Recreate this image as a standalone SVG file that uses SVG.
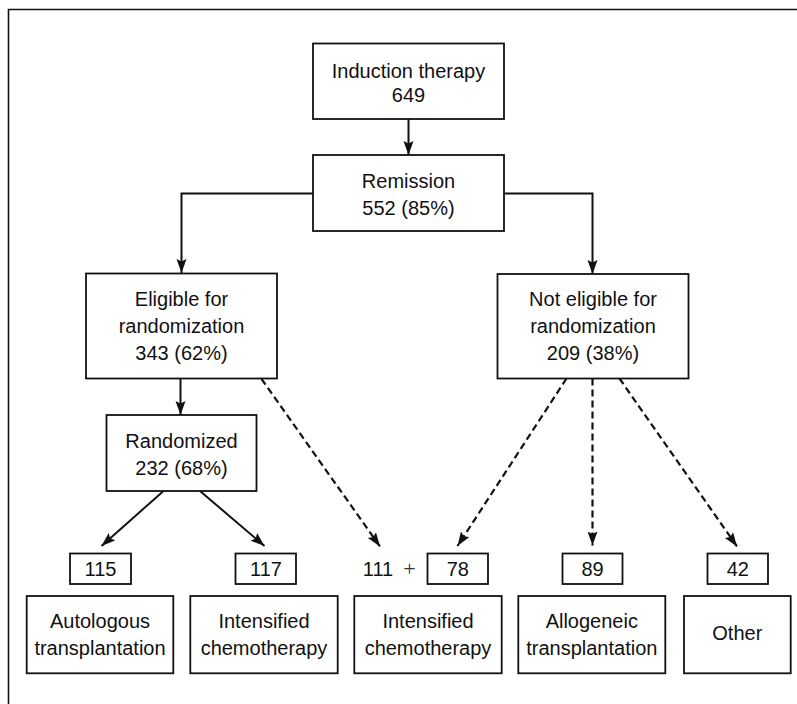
<svg xmlns="http://www.w3.org/2000/svg" width="797" height="704" viewBox="0 0 797 704">
<style>
.box{fill:#fff;stroke:#111;stroke-width:1.8}
.t{font-family:"Liberation Sans",Arial,Helvetica,sans-serif;font-size:20px;fill:#111;text-anchor:middle}
.plus{font-family:"Liberation Serif","Times New Roman",serif;font-size:22px;fill:#333;text-anchor:middle}
.c{fill:none;stroke:#111;stroke-width:2}
.d{fill:none;stroke:#111;stroke-width:2.2;stroke-dasharray:7 4}
</style>
<defs>
<marker id="ah" markerUnits="userSpaceOnUse" markerWidth="16" markerHeight="12" refX="14" refY="5" orient="auto">
<path d="M0,0 L14,5 L0,10 L2.5,5 z" fill="#111"/>
</marker>
</defs>
<rect width="797" height="704" fill="#fff"/>
<path d="M8.5,704 V9.5 H797" fill="none" stroke="#111" stroke-width="1.6"/>

<g id="connectors">
<line class="c" x1="408.5" y1="119" x2="408.5" y2="155" marker-end="url(#ah)"/>
<polyline class="c" points="313,193.5 181.5,193.5 181.5,273" marker-end="url(#ah)"/>
<polyline class="c" points="504,193.5 592.5,193.5 592.5,274" marker-end="url(#ah)"/>
<line class="c" x1="180.5" y1="378.5" x2="180.5" y2="415" marker-end="url(#ah)"/>
<line class="c" x1="163.5" y1="491" x2="101.5" y2="546" marker-end="url(#ah)"/>
<line class="c" x1="200" y1="491" x2="264.5" y2="546" marker-end="url(#ah)"/>
<line class="d" x1="261.5" y1="379" x2="380" y2="546.5" marker-end="url(#ah)"/>
<line class="d" x1="566.5" y1="378.5" x2="457.5" y2="546" marker-end="url(#ah)"/>
<line class="d" x1="592.5" y1="378.5" x2="592.5" y2="545.5" marker-end="url(#ah)"/>
<line class="d" x1="619.5" y1="378.5" x2="737" y2="546.5" marker-end="url(#ah)"/>
</g>

<g id="induction">
<rect class="box" x="313" y="43.5" width="191" height="75.5"/>
<text class="t" x="408.5" y="77.5">Induction therapy</text>
<text class="t" x="408.5" y="102">649</text>
</g>
<g id="remission">
<rect class="box" x="313" y="155" width="191" height="76"/>
<text class="t" x="408.5" y="188">Remission</text>
<text class="t" x="408.5" y="215">552 (85%)</text>
</g>
<g id="eligible">
<rect class="box" x="86" y="273.5" width="191" height="105"/>
<text class="t" x="181.5" y="306">Eligible for</text>
<text class="t" x="181.5" y="333">randomization</text>
<text class="t" x="181.5" y="360">343 (62%)</text>
</g>
<g id="noteligible">
<rect class="box" x="497.5" y="274" width="191" height="104.5"/>
<text class="t" x="593" y="305.5">Not eligible for</text>
<text class="t" x="593" y="332.5">randomization</text>
<text class="t" x="593" y="359.5">209 (38%)</text>
</g>
<g id="randomized">
<rect class="box" x="106.5" y="415" width="150" height="76"/>
<text class="t" x="181.5" y="448">Randomized</text>
<text class="t" x="181.5" y="475">232 (68%)</text>
</g>

<g id="n115">
<rect class="box" x="70" y="553.5" width="61" height="30.5"/>
<text class="t" x="100.5" y="576">115</text>
</g>
<g id="n117">
<rect class="box" x="235.5" y="553.5" width="60.5" height="30.5"/>
<text class="t" x="266" y="576">117</text>
</g>
<g id="n111">
<text class="t" x="378" y="576">111</text>
<text class="plus" x="409.5" y="576">+</text>
</g>
<g id="n78">
<rect class="box" x="427.5" y="553.5" width="60.5" height="30.5"/>
<text class="t" x="457.8" y="576">78</text>
</g>
<g id="n89">
<rect class="box" x="562.5" y="553.5" width="60" height="30.5"/>
<text class="t" x="592.5" y="576">89</text>
</g>
<g id="n42">
<rect class="box" x="707.5" y="553.5" width="60.5" height="30.5"/>
<text class="t" x="737.8" y="576">42</text>
</g>

<g id="autologous">
<rect class="box" x="26.7" y="596" width="146.6" height="77.3"/>
<text class="t" x="100" y="628.3">Autologous</text>
<text class="t" x="100" y="655">transplantation</text>
</g>
<g id="intensified1">
<rect class="box" x="190.3" y="596" width="147.4" height="77.3"/>
<text class="t" x="264" y="628.3">Intensified</text>
<text class="t" x="264" y="655">chemotherapy</text>
</g>
<g id="intensified2">
<rect class="box" x="354.3" y="596" width="147.4" height="77.3"/>
<text class="t" x="428" y="628.3">Intensified</text>
<text class="t" x="428" y="655">chemotherapy</text>
</g>
<g id="allogeneic">
<rect class="box" x="518.3" y="596" width="147" height="77.3"/>
<text class="t" x="591.8" y="628.3">Allogeneic</text>
<text class="t" x="591.8" y="655">transplantation</text>
</g>
<g id="other">
<rect class="box" x="684" y="596" width="106.7" height="77.3"/>
<text class="t" x="737.3" y="640">Other</text>
</g>
</svg>
